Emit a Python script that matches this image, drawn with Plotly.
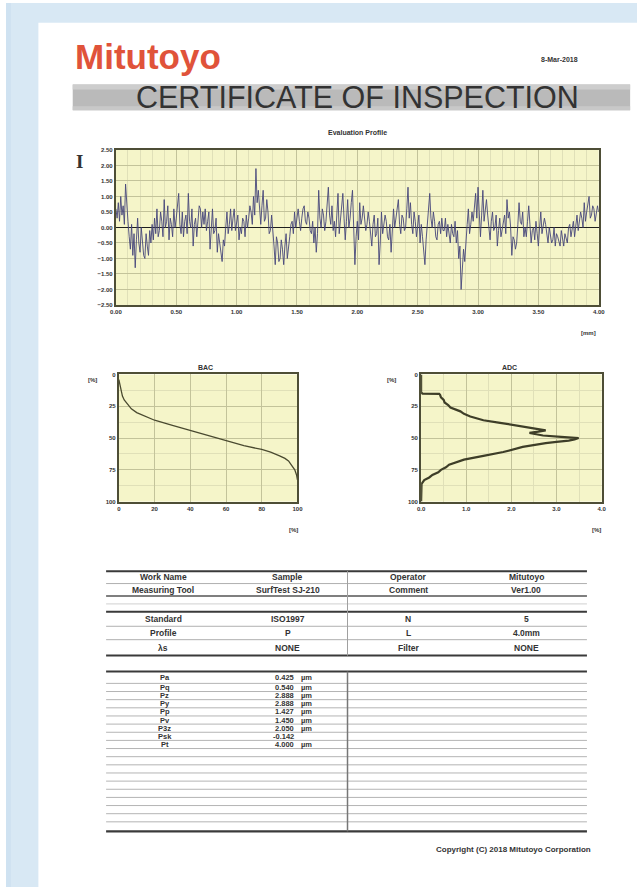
import plotly.graph_objects as go

W, H = 643, 890

# ---------------- data ----------------
profile_y = [
    0.6, 0.3, 0.8, 0.2, 1.0, 0.4, 0.7, 0.1, 1.4, 0.6,
    0.2, -0.3, -0.7, 0.1, -0.9, -0.2, -1.3, -0.4, 0.3, -0.5,
    -0.8, 0.0, -0.4, -0.9, -1.0, -0.2, -0.6, -0.9, -0.1, -0.5,
    0.1, -0.4, 0.3, -0.2, 0.6, -0.3, -0.1, 0.5, 0.2, -0.3,
    0.9, 0.0, 0.2, 0.7, -0.4, 0.3, 0.1, -0.3, 0.6, 0.0,
    0.3, 0.8, 1.1, 0.1, -0.2, 0.5, -0.3, 0.2, 0.4, -0.2,
    1.1, 0.2, 0.0, 0.6, -0.6, 0.1, 0.3, -0.3, 0.1, 0.7,
    0.6, 0.0, 0.5, 0.1, 0.6, -0.1, 0.2, 0.5, -0.7, 0.0,
    0.6, -0.2, -0.1, 0.3, -0.8, -0.2, -0.5, -0.9, -1.1, -0.4,
    -0.6, 0.0, 0.5, -0.2, 0.1, 0.6, -0.1, 0.3, 0.6, -0.1,
    0.1, 0.4, -0.4, 0.0, -0.2, 0.3, 0.2, -0.3, 0.4, 0.0,
    0.3, 0.7, 0.5, 0.1, 1.0, 0.4, 1.9, 0.8, 1.2, 0.5,
    0.1, 0.7, 1.2, 0.2, 0.3, 0.9, 0.5, -0.2, -0.1, 0.4,
    0.0, -0.6, -1.2, -0.3, -0.5, -1.1, -1.0, -0.4, -0.7, -1.2,
    -0.6, -0.2, -1.0, -0.5, -0.3, 0.1, 0.2, -0.2, 0.5, 0.0,
    0.4, 0.6, 0.2, -0.1, 0.3, 0.6, 0.7, 0.2, 0.1, 0.5,
    0.3, -0.1, -0.2, 0.2, -0.5, 0.0, -0.8, -0.2, 1.2, 0.3,
    0.0, 0.6, 0.4, -0.1, 0.2, 0.8, 1.3, 0.4, 0.1, 0.7,
    -0.1, 0.2, -0.3, 0.4, 1.1, -0.2, 0.2, 0.6, 1.1, 0.3,
    -0.4, 0.2, 0.9, 0.0, 0.3, 0.8, 1.2, 0.0, -1.2, -0.3,
    0.2, -0.4, 0.8, 0.1, 0.3, 0.7, 0.3, -0.1, 0.1, 0.5,
    0.2, -0.2, -0.6, 0.1, 0.4, -0.3, -0.2, 0.3, -1.2, -0.5,
    0.5, -0.2, 0.1, 0.4, 0.2, -0.3, -0.4, 0.1, -0.8, -0.1,
    0.6, 0.0, 0.3, 0.7, 0.9, 0.1, -0.2, 0.4, 0.3, -0.1,
    0.0, 0.6, 1.3, 0.3, 0.8, 0.1, -0.2, 0.5, 0.2, -0.3,
    0.2, 0.4, -0.5, 0.1, -0.3, -0.8, -1.2, -0.4, 0.2, 0.5,
    1.1, 0.3, 0.0, 0.5, 0.2, -0.3, -0.4, 0.1, 0.2, -0.2,
    0.3, -0.1, -0.1, 0.3, -0.3, 0.1, -0.2, -0.5, 0.1, -0.2,
    -0.3, 0.2, -0.5, -0.1, -1.0, -0.6, -2.0, -1.3, -0.7, -1.1,
    -0.3, 0.1, 0.6, -0.2, 0.1, 0.5, 0.2, 0.7, 1.1, 0.3,
    1.3, 0.5, -0.3, 0.4, 1.2, 0.2, 0.6, 0.9, 0.4, -0.1,
    -0.4, 0.2, 0.5, -0.1, 0.0, 0.4, -0.6, -0.1, 0.3, -0.3,
    -0.1, 0.2, 0.4, -0.2, 0.9, 0.3, 0.5, 0.0, -0.9, -0.3,
    -0.4, -0.7, -0.5, 0.1, 0.8, 0.2, 0.1, 0.5, -0.3, 0.0,
    -0.3, 0.2, 0.7, 0.1, -0.5, -0.1, 0.0, -0.4, 0.2, -0.2,
    -0.6, 0.0, 0.5, -0.2, 0.1, 0.3, 0.1, -0.3, -0.5, 0.0,
    -0.2, -0.5, -0.4, 0.0, -0.6, -0.2, -0.3, -0.5, -0.6, -0.1,
    -0.4, -0.6, -0.2, -0.4, -0.5, 0.0, 0.1, -0.3, -0.1, 0.2,
    -0.3, 0.0, 0.4, -0.1, 0.2, 0.5, 0.3, 0.0, 0.8, 0.2,
    0.5, 0.7, 1.0, 0.3, 0.4, 0.7, 0.6, 0.2, 0.4, 0.7,
    0.5,
]
profile_step_mm = 0.01
profile_x = [round(i * profile_step_mm, 3) for i in range(len(profile_y))]
profile_xticks = [0.0, 0.5, 1.0, 1.5, 2.0, 2.5, 3.0, 3.5, 4.0]
profile_yticks = [-2.5, -2.0, -1.5, -1.0, -0.5, 0.0, 0.5, 1.0, 1.5, 2.0, 2.5]

bac_tp = [0, 0.5, 1, 2, 3, 5, 7, 10, 15, 20, 30, 40, 50, 60, 70, 80, 85, 90, 93, 95, 97, 98.5, 99.5, 100]
bac_depth = [4, 8, 12, 17, 20, 24, 27, 30, 33, 36, 40, 44, 48, 52, 56, 59, 61, 64, 66, 68, 72, 75, 79, 83]

adc_depth = [0, 14, 15, 15.2, 16, 18, 20, 22, 24, 26, 29, 31, 33, 36, 38, 40, 42, 44, 45, 46, 47, 48, 49,
             50, 51, 52, 53, 54, 57, 61, 64, 67, 71, 73, 75, 77, 79, 81, 83, 86, 100]
adc_amp = [0, 0, 0.03, 0.40, 0.42, 0.44, 0.50, 0.52, 0.60, 0.65, 0.87, 0.95, 1.09, 1.38, 1.75, 2.11, 2.47, 2.76,
           2.6, 2.4, 2.55, 2.7, 3.1, 3.49, 3.4, 3.27, 3.0, 2.76, 2.25, 1.82, 1.38, 0.95, 0.62, 0.55, 0.44,
           0.38, 0.25, 0.18, 0.07, 0.01, 0]
pct_ticks = [0, 25, 50, 75, 100]
bac_xticks = [0, 20, 40, 60, 80, 100]
adc_xticks = [0.0, 1.0, 2.0, 3.0, 4.0]

info_rows = [
    ["Work Name", "Sample", "Operator", "Mitutoyo"],
    ["Measuring Tool", "SurfTest SJ-210", "Comment", "Ver1.00"],
]
cond_rows = [
    ["Standard", "ISO1997", "N", "5"],
    ["Profile", "P", "L", "4.0mm"],
    ["λs", "NONE", "Filter", "NONE"],
]
param_names = ["Pa", "Pq", "Pz", "Py", "Pp", "Pv", "P3z", "Psk", "Pt"]
param_values = ["0.425", "0.540", "2.888", "2.888", "1.427", "1.450", "2.050", "-0.142", "4.000"]
param_units = ["µm", "µm", "µm", "µm", "µm", "µm", "µm", "", "µm"]

# ---------------- helpers ----------------
def fx(x):
    return x / W

def fy(y):
    return 1 - y / H

PLOT_BG = "#f5f5c9"
FRAME = "#4e4e36"
GRID = "#c3c39a"
MINOR = "#e0e0b8"
TICKFONT = dict(family="Arial", size=6, color="#333333", weight="bold")

fig = go.Figure()

fig.add_trace(go.Scatter(x=profile_x, y=profile_y, mode="lines",
                         line=dict(color="#46467a", width=0.9),
                         xaxis="x", yaxis="y", showlegend=False))
fig.add_trace(go.Scatter(x=bac_tp, y=bac_depth, mode="lines",
                         line=dict(color="#4a4a30", width=1.3),
                         xaxis="x2", yaxis="y2", showlegend=False))
fig.add_trace(go.Scatter(x=adc_amp, y=adc_depth, mode="lines",
                         line=dict(color="#3e3e28", width=2.2),
                         xaxis="x3", yaxis="y3", showlegend=False))

def axis_common(**kw):
    d = dict(showgrid=True, gridcolor=GRID, gridwidth=1, zeroline=False,
             showline=True, mirror=True, linecolor=FRAME, linewidth=2,
             ticks="", tickfont=TICKFONT, fixedrange=True)
    d.update(kw)
    return d

fig.update_layout(
    width=W, height=H, margin=dict(l=0, r=0, t=0, b=0),
    paper_bgcolor="white", plot_bgcolor=PLOT_BG,
    xaxis=axis_common(domain=[fx(112), fx(604)], range=[0, 4], tickvals=profile_xticks,
                      tickformat=".2f", anchor="y",
                      minor=dict(dtick=0.1, showgrid=True, gridcolor=MINOR)),
    yaxis=axis_common(domain=[fy(304), fy(148)], range=[-2.5, 2.5], tickvals=profile_yticks,
                      tickformat=".2f", anchor="x", zeroline=True, zerolinecolor="#1e1e1e",
                      zerolinewidth=1.6),
    xaxis2=axis_common(domain=[fx(115), fx(297)], range=[0, 100], tickvals=bac_xticks, anchor="y2"),
    yaxis2=axis_common(domain=[fy(502), fy(374)], range=[100, 0], tickvals=pct_ticks, anchor="x2",
                       minor=dict(dtick=12.5, showgrid=True, gridcolor=MINOR)),
    xaxis3=axis_common(domain=[fx(423), fx(607)], range=[0, 4], tickvals=adc_xticks, tickformat=".1f",
                       anchor="y3", minor=dict(dtick=0.5, showgrid=True, gridcolor=MINOR)),
    yaxis3=axis_common(domain=[fy(502), fy(374)], range=[100, 0], tickvals=pct_ticks, anchor="x3",
                       minor=dict(dtick=12.5, showgrid=True, gridcolor=MINOR)),
)

shapes = []
# light blue surround
shapes.append(dict(type="rect", xref="paper", yref="paper", x0=0, x1=1, y0=fy(20), y1=1,
                   fillcolor="#d8e8f4", line=dict(width=0), layer="below"))
shapes.append(dict(type="rect", xref="paper", yref="paper", x0=0, x1=fx(33), y0=0, y1=1,
                   fillcolor="#d8e8f4", line=dict(width=0), layer="below"))
shapes.append(dict(type="rect", xref="paper", yref="paper", x0=0, x1=fx(5), y0=0, y1=1,
                   fillcolor="#cfe2f1", line=dict(width=0), layer="below"))
# title band
shapes.append(dict(type="rect", xref="paper", yref="paper", x0=fx(68), x1=fx(636), y0=fy(108), y1=fy(82),
                   fillcolor="#bababa", line=dict(width=0), layer="below"))
shapes.append(dict(type="rect", xref="paper", yref="paper", x0=fx(68), x1=fx(636), y0=fy(87), y1=fy(82),
                   fillcolor="#cdcdcd", line=dict(width=0), layer="below"))
shapes.append(dict(type="rect", xref="paper", yref="paper", x0=fx(68), x1=fx(636), y0=fy(108), y1=fy(104),
                   fillcolor="#c8c8c8", line=dict(width=0), layer="below"))

TL, TR = 102, 592
def hline(y, color, width):
    shapes.append(dict(type="line", xref="paper", yref="paper", x0=fx(TL), x1=fx(TR), y0=fy(y), y1=fy(y),
                       line=dict(color=color, width=width)))

# upper table lines
hline(572, "#3a3a3a", 2)
hline(584.5, "#b0b0b0", 1)
hline(597, "#555555", 1.5)
hline(605, "#d0d0d0", 1)
hline(613, "#3a3a3a", 2)
hline(627.5, "#b0b0b0", 1)
hline(641, "#b0b0b0", 1)
hline(657, "#3a3a3a", 2)
shapes.append(dict(type="line", xref="paper", yref="paper", x0=fx(348), x1=fx(348), y0=fy(572), y1=fy(657),
                   line=dict(color="#a0a0a0", width=1)))
# lower table lines
hline(673, "#3a3a3a", 2)
row_lines = [685 + 8.2 * k for k in range(18)]
for yv in row_lines:
    hline(yv, "#b4b4b4", 1)
hline(834, "#3a3a3a", 2.2)
shapes.append(dict(type="line", xref="paper", yref="paper", x0=fx(348), x1=fx(348), y0=fy(673), y1=fy(834),
                   line=dict(color="#777777", width=1.5)))

fig.update_layout(shapes=shapes)

ann = []
def text(x, y, s, size=8, color="#333333", xanchor="center", family="Arial", weight="bold"):
    ann.append(dict(x=fx(x), y=fy(y), xref="paper", yref="paper", text=s, showarrow=False,
                    xanchor=xanchor, yanchor="middle",
                    font=dict(family=family, size=size, color=color, weight=weight)))

text(68, 54, "Mitutoyo", size=35, color="#e0533a", xanchor="left", weight="bold")
text(564, 57, "8-Mar-2018", size=7)
text(358, 95, "CERTIFICATE OF INSPECTION", size=30.5, color="#333333", weight="normal")
text(358, 130, "Evaluation Profile", size=7)
text(75, 160, "I", size=19, color="#333333", family="Liberation Serif")
text(594, 332, "[mm]", size=6)
text(203, 367, "BAC", size=7)
text(513, 367, "ADC", size=7)
text(88, 380, "[%]", size=6)
text(393, 380, "[%]", size=6)
text(293, 531, "[%]", size=6)
text(602, 531, "[%]", size=6)

col_x = [160, 287, 410, 530]
for r, yv in zip(info_rows, [578, 591]):
    for cx, s in zip(col_x, r):
        text(cx, yv, s, size=8.5)
for r, yv in zip(cond_rows, [620, 634, 649]):
    for cx, s in zip(col_x, r):
        text(cx, yv, s, size=8.5)

param_y = [679] + [689.1 + 8.2 * k for k in range(8)]
for name, val, unit, yv in zip(param_names, param_values, param_units, param_y):
    text(162, yv, name, size=7.5)
    text(296, yv, val, size=7.5, xanchor="right")
    if unit:
        text(299, yv, unit, size=7.5, xanchor="left")

text(517, 852, "Copyright (C) 2018 Mitutoyo Corporation", size=8)

fig.update_layout(annotations=ann)

fig.write_html(
    "out.html",
    config={"displayModeBar": False, "staticPlot": True},
    post_script=("document.body.style.margin='0px';"
                 "document.body.style.overflow='hidden';"
                 "document.documentElement.style.overflow='hidden';"),
)
